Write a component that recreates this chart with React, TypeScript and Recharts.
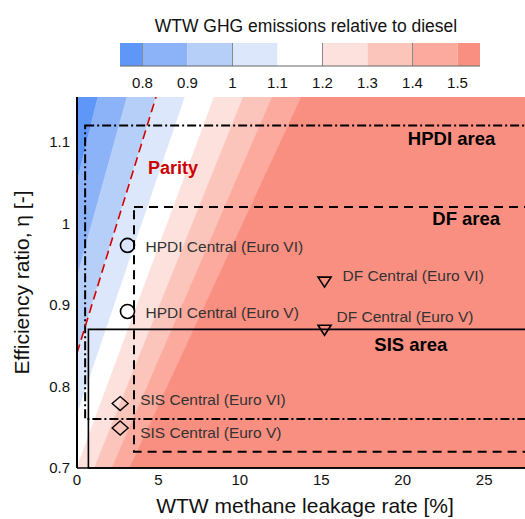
import React from 'react';
import {
  ComposedChart,
  BarChart,
  Bar,
  Area,
  Line,
  Scatter,
  XAxis,
  YAxis,
  ReferenceArea,
  ReferenceDot,
  ReferenceLine,
} from 'recharts';

// ---- contour field (WTW GHG relative to diesel) ----
const contourLevels = [0.8, 0.9, 1.0, 1.1, 1.2, 1.3, 1.4, 1.5];
// efficiency ratio where each contour meets leak = 0
const contourEtaAtZeroLeak = [1.051, 0.934, 0.841, 0.765, 0.701, 0.647, 0.601, 0.561];
// leak rate where each contour meets the top edge of the plot (eta = 1.155)
const contourLeakAtTop = [1.28, 3.07, 4.85, 6.63, 8.42, 10.2, 11.98, 13.77];
const bandColors = ['#5f97f9', '#8cb3f8', '#b6cff9', '#dce7fb', '#ffffff', '#fde1dd', '#fcc5bc', '#fbaa9d', '#f98f80'];

// ---- colour bar ----
const colorbarEdges = [0.75, 0.8, 0.9, 1.0, 1.1, 1.2, 1.3, 1.4, 1.5, 1.55];
const colorbarTicks = [0.8, 0.9, 1, 1.1, 1.2, 1.3, 1.4, 1.5];
const colorbarMajor = [0.8, 1.0, 1.2, 1.4];

// ---- axes ----
const leakTicks = [0, 5, 10, 15, 20, 25];
const etaTicks = [0.7, 0.8, 0.9, 1, 1.1];
const LEAK_MIN = 0;
const LEAK_MAX = 28;
const ETA_MIN = 0.7;
const ETA_MAX = 1.155;

// ---- operating areas ----
const areaNames = ['HPDI area', 'DF area', 'SIS area'];
const areaLeakMin = [0.5, 3.5, 0.7];
const areaEtaMin = [0.76, 0.72, 0.7];
const areaEtaMax = [1.12, 1.02, 0.87];

// ---- central points ----
const hpdiNames = ['HPDI Central (Euro VI)', 'HPDI Central (Euro V)'];
const hpdiLeak = [3.1, 3.1];
const hpdiEta = [0.973, 0.892];
const dfNames = ['DF Central (Euro VI)', 'DF Central (Euro V)'];
const dfLeak = [15.2, 15.2];
const dfEta = [0.928, 0.869];
const sisNames = ['SIS Central (Euro VI)', 'SIS Central (Euro V)'];
const sisLeak = [2.65, 2.65];
const sisEta = [0.779, 0.749];

// ---- build tables ----
const contourEta = (i: number, leak: number) =>
  contourEtaAtZeroLeak[i] + ((ETA_MAX - contourEtaAtZeroLeak[i]) * leak) / contourLeakAtTop[i];

const bandData = [LEAK_MIN, LEAK_MAX].map((leak) => {
  const row: any = { x: leak };
  const n = contourLevels.length;
  for (let k = 0; k <= n; k++) {
    const hi = k === 0 ? 5 : contourEta(k - 1, leak);
    const lo = k === n ? 0 : contourEta(k, leak);
    row['b' + k] = [lo, hi];
  }
  row.parity = contourEta(contourLevels.indexOf(1.0), leak);
  return row;
});

const colorbarRow: any = { name: 'cb', off: colorbarEdges[0] };
bandColors.forEach((_, k) => {
  colorbarRow['s' + k] = colorbarEdges[k + 1] - colorbarEdges[k];
});

const mk = (names: string[], leak: number[], eta: number[]) =>
  names.map((name, i) => ({ x: leak[i], y: eta[i], name, i }));
const hpdiData = mk(hpdiNames, hpdiLeak, hpdiEta);
const dfData = mk(dfNames, dfLeak, dfEta);
const sisData = mk(sisNames, sisLeak, sisEta);

const FONT = '"Liberation Sans", Arial, sans-serif';
const labelStyle = { fontSize: 15.5, fill: '#333' };

// label offsets (px) relative to marker centre
const hpdiLabelOff = [[18, 1], [18, 1]];
const dfLabelOff = [[18, -7], [12, -14]];
const sisLabelOff = [[20, -4], [20, 4]];

const makeShape = (kind: string, offs: number[][]) => (props: any) => {
  const { cx, cy, payload } = props;
  const idx = payload?.i ?? 0;
  const [dx, dy] = offs[idx];
  let marker: React.ReactNode = null;
  if (kind === 'circle') {
    marker = <circle cx={cx} cy={cy} r={7} fill="none" stroke="#000" strokeWidth={1.6} />;
  } else if (kind === 'tri') {
    marker = (
      <path
        d={`M${cx - 6.5},${cy - 5} L${cx + 6.5},${cy - 5} L${cx},${cy + 5} Z`}
        fill="none"
        stroke="#000"
        strokeWidth={1.6}
      />
    );
  } else {
    marker = (
      <path
        d={`M${cx},${cy - 7} L${cx + 8},${cy} L${cx},${cy + 7} L${cx - 8},${cy} Z`}
        fill="none"
        stroke="#000"
        strokeWidth={1.4}
      />
    );
  }
  return (
    <g>
      {marker}
      <text x={cx + dx} y={cy + dy} dominantBaseline="central" {...labelStyle}>
        {payload?.name}
      </text>
    </g>
  );
};

const areaTextPos = [
  { x: 23.0, y: 1.104 },
  { x: 23.9, y: 1.0055 },
  { x: 20.5, y: 0.851 },
];
const areaStroke = [
  { dash: '9 3 2 3', width: 2 },
  { dash: '9 6', width: 2 },
  { dash: undefined, width: 1.6 },
];

export default function App() {
  return (
    <div
      style={{
        position: 'fixed',
        left: 0,
        top: 0,
        width: 525,
        height: 519,
        overflow: 'hidden',
        background: '#fff',
        fontFamily: FONT,
      }}
    >
      {/* colour bar title */}
      <div
        style={{
          position: 'absolute',
          left: 0,
          top: 18,
          width: 612,
          textAlign: 'center',
          fontSize: 17.5,
          lineHeight: '17px',
          color: '#111',
          whiteSpace: 'nowrap',
        }}
      >
        WTW GHG emissions relative to diesel
      </div>

      {/* colour bar */}
      <div style={{ position: 'absolute', left: 0, top: 0 }}>
        <BarChart
          width={525}
          height={100}
          layout="vertical"
          data={[colorbarRow]}
          barCategoryGap={0}
          margin={{ top: 43, right: 45, left: 120, bottom: 0 }}
        >
          <XAxis
            type="number"
            domain={[colorbarEdges[0], colorbarEdges[colorbarEdges.length - 1]]}
            allowDataOverflow
            ticks={colorbarTicks}
            interval={0}
            height={34}
            tickLine={false}
            tickSize={8}
            tickMargin={3}
            axisLine={{ stroke: '#666', strokeWidth: 1 }}
            tick={{ fontSize: 15, fill: '#111' }}
          />
          <YAxis type="category" dataKey="name" hide />
          <Bar dataKey="off" stackId="a" fill="none" isAnimationActive={false} />
          {bandColors.map((c, k) => (
            <Bar key={k} dataKey={'s' + k} stackId="a" fill={c} isAnimationActive={false} />
          ))}
          {colorbarMajor.map((v) => (
            <ReferenceLine key={v} x={v} stroke="#8a8a8a" strokeWidth={1} />
          ))}
        </BarChart>
      </div>

      {/* main chart */}
      <div style={{ position: 'absolute', left: 0, top: 0 }}>
        <ComposedChart
          width={540}
          height={519}
          data={bandData}
          margin={{ top: 97, right: 7, left: 0, bottom: 0 }}
        >
          <XAxis
            type="number"
            dataKey="x"
            domain={[LEAK_MIN, LEAK_MAX]}
            ticks={leakTicks}
            interval={0}
            allowDataOverflow
            height={51}
            tickLine={false}
            tickSize={6}
            tickMargin={0}
            axisLine={{ stroke: '#000', strokeWidth: 1.6 }}
            tick={{ fontSize: 15, fill: '#111' }}
            label={{
              value: 'WTW methane leakage rate [%]',
              position: 'insideBottom',
              offset: 6,
              fontSize: 21,
              fill: '#111',
            }}
          />
          <YAxis
            type="number"
            domain={[ETA_MIN, ETA_MAX]}
            ticks={etaTicks}
            interval={0}
            allowDataOverflow
            width={77}
            tickLine={false}
            tickSize={6}
            tickMargin={1}
            axisLine={{ stroke: '#000', strokeWidth: 2 }}
            tick={{ fontSize: 15, fill: '#111' }}
            label={{
              value: 'Efficiency ratio, η [-]',
              angle: -90,
              position: 'insideLeft',
              offset: 22,
              fontSize: 21,
              fill: '#111',
              style: { textAnchor: 'middle' },
            }}
          />
          {bandColors.map((c, k) => (
            <Area
              key={k}
              type="linear"
              dataKey={'b' + k}
              fill={c}
              fillOpacity={1}
              stroke={c}
              strokeWidth={0.5}
              isAnimationActive={false}
              activeDot={false}
              dot={false}
            />
          ))}
          <Line
            type="linear"
            dataKey="parity"
            stroke="#d40000"
            strokeWidth={1.6}
            strokeDasharray="9 5"
            dot={false}
            activeDot={false}
            isAnimationActive={false}
          />
          {areaNames.map((n, i) => (
            <ReferenceArea
              key={n}
              x1={areaLeakMin[i]}
              x2={LEAK_MAX}
              y1={areaEtaMin[i]}
              y2={areaEtaMax[i]}
              fill="none"
              fillOpacity={0}
              stroke="#000"
              strokeWidth={areaStroke[i].width}
              strokeDasharray={areaStroke[i].dash}
              strokeOpacity={1}
            />
          ))}
          <Scatter data={hpdiData} dataKey="y" shape={makeShape('circle', hpdiLabelOff)} isAnimationActive={false} />
          <Scatter data={dfData} dataKey="y" shape={makeShape('tri', dfLabelOff)} isAnimationActive={false} />
          <Scatter data={sisData} dataKey="y" shape={makeShape('diamond', sisLabelOff)} isAnimationActive={false} />
          {areaNames.map((n, i) => (
            <ReferenceDot
              key={'t' + n}
              x={areaTextPos[i].x}
              y={areaTextPos[i].y}
              r={0}
              fill="none"
              stroke="none"
              label={{ value: n, position: 'center', fontSize: 18.5, fontWeight: 'bold', fill: '#000' }}
            />
          ))}
          <ReferenceDot
            x={5.9}
            y={1.068}
            r={0}
            fill="none"
            stroke="none"
            label={{ value: 'Parity', position: 'center', fontSize: 18, fontWeight: 'bold', fill: '#cc0000' }}
          />
        </ComposedChart>
      </div>
    </div>
  );
}
